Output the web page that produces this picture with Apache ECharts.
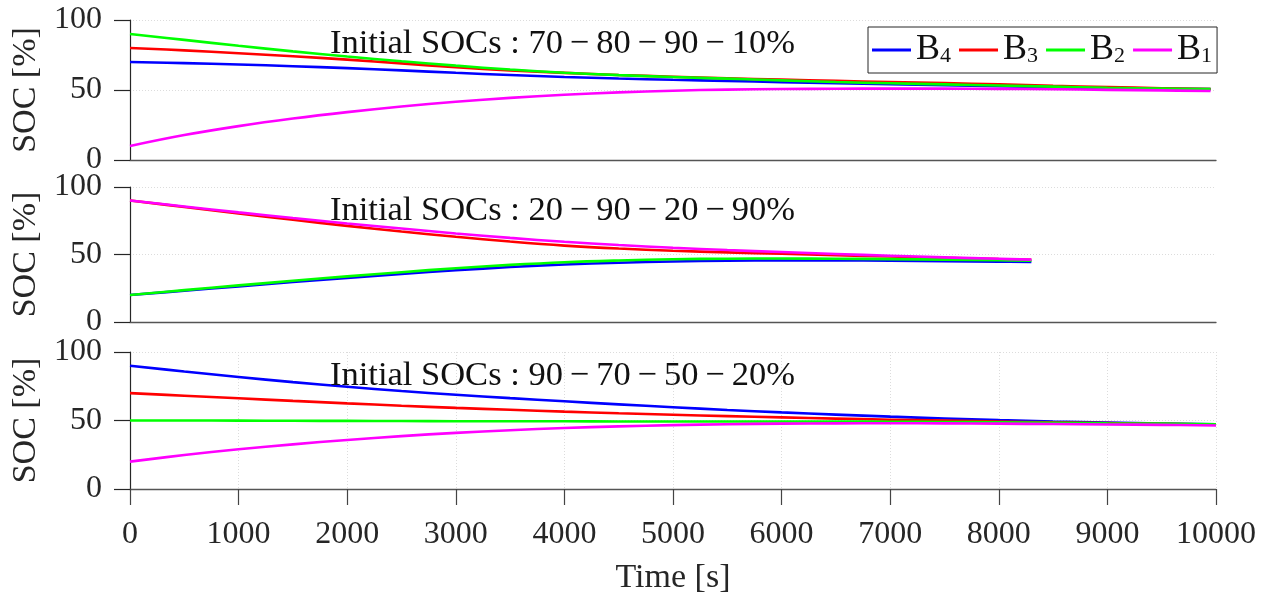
<!DOCTYPE html>
<html>
<head>
<meta charset="utf-8">
<script src="https://cdn.jsdelivr.net/npm/echarts@6/dist/echarts.min.js"></script>
<style>html,body{margin:0;padding:0;background:#fff}#c{width:1272px;height:592px}</style>
</head>
<body>
<div id="c"></div>
<script>
// ---------- data ----------
var seriesNames = ['B4', 'B3', 'B2', 'B1'];
var panelTitles = [
  'Initial SOCs : 70\u2009\u2212\u200980\u2009\u2212\u200990\u2009\u2212\u200910%',
  'Initial SOCs : 20\u2009\u2212\u200990\u2009\u2212\u200920\u2009\u2212\u200990%',
  'Initial SOCs : 90\u2009\u2212\u200970\u2009\u2212\u200950\u2009\u2212\u200920%'
];
var xTicks = [0, 1000, 2000, 3000, 4000, 5000, 6000, 7000, 8000, 9000, 10000];
var yTicks = [0, 50, 100];

// Panel 1 : 70-80-90-10 %
var t1 = [0, 500, 1000, 1500, 2000, 2500, 3000, 3500, 4000, 4500, 5000, 5500, 6000, 6500, 7000, 7500, 8000, 8500, 9000, 9500, 9950];
var p1B4 = [70, 69.2, 68.2, 67.0, 65.6, 64.0, 62.3, 60.7, 59.3, 58.2, 57.3, 56.5, 55.6, 54.8, 54.1, 53.4, 52.7, 52.0, 51.4, 51.0, 50.7];
var p1B3 = [80, 78.3, 76.3, 74.1, 71.7, 69.0, 66.3, 64.0, 62.2, 60.7, 59.5, 58.4, 57.4, 56.5, 55.7, 54.9, 54.0, 53.0, 52.1, 51.3, 50.7];
var p1B2 = [90, 85.8, 81.6, 77.6, 73.9, 70.5, 67.4, 64.6, 62.3, 60.6, 59.3, 58.1, 56.9, 55.7, 54.8, 54.0, 53.2, 52.4, 51.6, 51.0, 50.6];
var p1B1 = [10, 17.8, 24.2, 29.6, 34.2, 38.2, 41.6, 44.4, 46.6, 48.3, 49.5, 50.3, 50.7, 50.9, 51.0, 51.0, 50.8, 50.5, 50.1, 49.7, 49.3];

// Panel 2 : 20-90-20-90 %
var t2 = [0, 500, 1000, 1500, 2000, 2500, 3000, 3500, 4000, 4500, 5000, 5500, 6000, 6500, 7000, 7500, 8000, 8300];
var p2B4 = [20, 23.2, 26.4, 29.6, 32.7, 35.6, 38.3, 40.7, 42.6, 43.9, 44.8, 45.4, 45.6, 45.6, 45.4, 45.1, 44.7, 44.5];
var p2B3 = [90, 85.2, 80.4, 75.7, 71.2, 67.0, 63.1, 59.6, 56.6, 54.4, 52.8, 51.6, 50.5, 49.5, 48.5, 47.5, 46.6, 46.1];
var p2B2 = [20, 23.6, 27.1, 30.5, 33.8, 36.9, 39.8, 42.3, 44.3, 45.6, 46.5, 46.9, 47.0, 46.9, 46.6, 46.2, 45.7, 45.4];
var p2B1 = [90, 85.6, 81.2, 77.0, 73.0, 69.2, 65.6, 62.3, 59.4, 57.0, 55.0, 53.3, 51.8, 50.4, 49.1, 47.9, 46.8, 46.2];

// Panel 3 : 90-70-50-20 %
var t3 = [0, 500, 1000, 1500, 2000, 2500, 3000, 3500, 4000, 4500, 5000, 5500, 6000, 6500, 7000, 7500, 8000, 8500, 9000, 9500, 10000];
var p3B4 = [90, 85.8, 81.8, 78.0, 74.6, 71.5, 68.8, 66.3, 64.0, 61.8, 59.7, 57.7, 55.9, 54.3, 52.8, 51.5, 50.3, 49.3, 48.5, 47.8, 47.2];
var p3B3 = [70, 68.1, 66.2, 64.3, 62.5, 60.8, 59.2, 57.8, 56.5, 55.3, 54.2, 53.2, 52.3, 51.4, 50.6, 49.9, 49.2, 48.6, 48.1, 47.6, 47.1];
var p3B2 = [50, 50, 49.9, 49.8, 49.7, 49.6, 49.5, 49.4, 49.4, 49.3, 49.3, 49.3, 49.3, 49.2, 49.1, 48.9, 48.7, 48.4, 48.0, 47.7, 47.3];
var p3B1 = [20, 24.8, 29.0, 32.6, 35.8, 38.6, 41.0, 42.9, 44.5, 45.7, 46.6, 47.3, 47.7, 47.9, 48.0, 47.9, 47.7, 47.4, 47.1, 46.8, 46.4];

// ---------- chart ----------
var FONT = 'Liberation Serif';
var colors = {B4: '#0000ff', B3: '#ff0000', B2: '#00ff00', B1: '#ff00ff'};
var panels = [
  {t: t1, d: {B4: p1B4, B3: p1B3, B2: p1B2, B1: p1B1}},
  {t: t2, d: {B4: p2B4, B3: p2B3, B2: p2B2, B1: p2B1}},
  {t: t3, d: {B4: p3B4, B3: p3B3, B2: p3B2, B1: p3B1}}
];
var grids = [
  {left: 130, right: 56, top: 20, height: 140, outerBoundsMode: 'none', containLabel: false},
  {left: 130, right: 56, top: 187, height: 135, outerBoundsMode: 'none', containLabel: false},
  {left: 130, right: 56, top: 352, height: 137, outerBoundsMode: 'none', containLabel: false}
];

function zip(t, v) { return t.map(function (x, i) { return [x, v[i]]; }); }

var xAxes = [], yAxes = [], series = [], titles = [];
grids.forEach(function (g, i) {
  var last = (i === 2);
  xAxes.push({
    type: 'value', gridIndex: i, min: xTicks[0], max: xTicks[xTicks.length - 1], interval: 1000,
    axisLine: {show: true, lineStyle: {color: '#555', width: 1.3}},
    axisTick: {show: last, inside: false, length: 16, lineStyle: {color: '#444', width: 1.2}},
    axisLabel: {show: last, color: '#262626', fontFamily: FONT, fontSize: 32, margin: 30,
      formatter: function (v) { return String(v); }},
    splitLine: {show: last, lineStyle: {color: '#dcdcdc', type: [1, 2], width: 1}},
    name: last ? 'Time [s]' : '', nameLocation: 'middle', nameGap: 72,
    nameTextStyle: {color: '#262626', fontFamily: FONT, fontSize: 34}
  });
  yAxes.push({
    type: 'value', gridIndex: i, min: yTicks[0], max: yTicks[yTicks.length - 1], interval: 50,
    axisLine: {show: true, lineStyle: {color: '#262626', width: 1.2}},
    axisTick: {show: true, inside: false, length: 16, lineStyle: {color: '#262626', width: 1.2}},
    axisLabel: {color: '#262626', fontFamily: FONT, fontSize: 32, margin: 28},
    splitLine: {show: true, lineStyle: {color: '#dcdcdc', type: [1, 2], width: 1}},
    name: 'SOC [%]', nameLocation: 'middle', nameGap: 84, nameRotate: 90,
    nameTextStyle: {color: '#262626', fontFamily: FONT, fontSize: 34}
  });
  titles.push({
    text: panelTitles[i], left: 325, top: g.top + 1,
    textStyle: {color: '#111', fontFamily: FONT, fontSize: 34.5, fontWeight: 'normal'}
  });
  seriesNames.forEach(function (n) {
    series.push({
      name: n, type: 'line', xAxisIndex: i, yAxisIndex: i,
      data: zip(panels[i].t, panels[i].d[n]),
      showSymbol: false, symbol: 'none', smooth: 0.4,
      lineStyle: {color: colors[n], width: 2.6}, itemStyle: {color: colors[n]},
      silent: true, animation: false
    });
  });
});

var chart = echarts.init(document.getElementById('c'), null, {renderer: 'canvas'});
chart.setOption({
  backgroundColor: '#fff',
  animation: false,
  title: titles,
  grid: grids,
  xAxis: xAxes,
  yAxis: yAxes,
  legend: {
    data: seriesNames, left: 868, top: 27, orient: 'horizontal',
    icon: 'rect', itemWidth: 39, itemHeight: 3, itemGap: 8,
    padding: [5, 5, 5, 4], borderColor: '#262626', borderWidth: 1, backgroundColor: '#fff',
    selectedMode: false,
    formatter: function (name) { return '{b|B}{s|' + name.slice(1) + '}'; },
    textStyle: {
      color: '#111', fontFamily: FONT, fontSize: 36, lineHeight: 34,
      rich: {
        b: {fontFamily: FONT, fontSize: 36, lineHeight: 34, color: '#111'},
        s: {fontFamily: FONT, fontSize: 22, lineHeight: 14, verticalAlign: 'bottom', color: '#111'}
      }
    }
  },
  series: series
});
</script>
</body>
</html>
